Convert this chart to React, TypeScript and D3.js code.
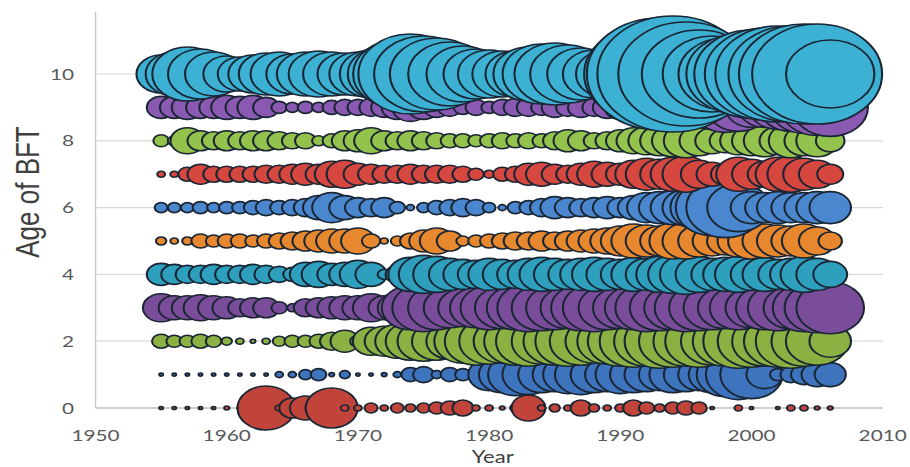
import React, { useEffect, useRef } from 'react';
import * as d3 from 'd3';

// bubble chart: size of each age class of BFT per year
const years = d3.range(1955, 2007);
const ages = [0, 1, 2, 3, 4, 5, 6, 7, 8, 9, 10];

// bubble widths per year (1955..2006), one array per age
const age0 = [1.5, 1.5, 1.5, 1.5, 1.5, 2, 2, 1.5, 22, 3, 10, 12, 10, 20, 3, 3, 5, 3, 5, 4, 5, 6, 7, 8, 3, 3, 2, 4, 13, 3, 4, 3, 8, 4, 3, 4, 8, 6, 4, 6, 7, 6, 1.5, 0, 3, 1.5, 0, 1.5, 3, 3, 2, 2];
const age1 = [1.5, 1.5, 1.5, 1.5, 1.5, 1.5, 1.5, 1.5, 1.5, 3, 3, 5, 6, 2, 4, 1.5, 1.5, 2, 3, 7, 8, 4, 7, 6, 2, 16, 18, 21, 20, 18, 17, 19, 20, 18, 17, 19, 18, 17, 16, 18, 17, 16, 18, 22, 25, 24, 14, 6, 8, 10, 12, 12];
const age2 = [7, 6, 6, 7, 6, 4, 3, 2, 3, 5, 6, 6, 7, 9, 11, 6, 14, 15, 17, 19, 20, 19, 18, 22, 24, 23, 22, 24, 25, 23, 24, 25, 24, 22, 23, 25, 26, 25, 27, 26, 25, 26, 24, 25, 27, 26, 25, 26, 27, 25, 24, 16];
const age3 = [14, 12, 12, 13, 12, 11, 9, 10, 10, 6, 4, 9, 10, 11, 12, 12, 14, 12, 15, 22, 24, 22, 20, 19, 20, 22, 21, 22, 24, 23, 22, 21, 23, 24, 22, 21, 22, 24, 23, 22, 24, 23, 22, 21, 22, 20, 22, 23, 21, 24, 25, 26];
const age4 = [11, 10, 9, 9, 10, 9, 9, 10, 9, 8, 7, 12, 13, 11, 12, 14, 12, 5, 9, 17, 19, 18, 16, 15, 14, 16, 15, 14, 16, 17, 16, 15, 16, 17, 16, 15, 17, 16, 18, 19, 20, 18, 16, 17, 18, 16, 17, 15, 16, 18, 16, 13];
const age5 = [4, 3, 4, 7, 6, 7, 7, 6, 7, 8, 9, 10, 11, 12, 12, 13, 7, 3, 5, 8, 11, 13, 10, 5, 6, 7, 8, 9, 9, 10, 9, 10, 11, 12, 13, 15, 17, 16, 15, 18, 18, 16, 15, 14, 16, 18, 17, 16, 15, 17, 14, 9];
const age6 = [5, 5, 5, 6, 5, 6, 6, 7, 8, 7, 8, 9, 12, 15, 12, 10, 9, 10, 6, 3, 5, 7, 8, 9, 8, 5, 3, 6, 7, 9, 11, 10, 9, 10, 11, 10, 12, 15, 16, 17, 18, 22, 28, 30, 24, 16, 15, 16, 15, 15, 16, 16];
const age7 = [3, 3, 7, 10, 8, 8, 8, 8, 9, 9, 10, 11, 10, 13, 14, 11, 10, 9, 9, 10, 9, 9, 9, 8, 6, 4, 7, 8, 11, 12, 10, 9, 11, 13, 12, 11, 14, 16, 15, 17, 18, 14, 12, 11, 17, 15, 13, 17, 18, 16, 14, 10];
const age8 = [6, 5, 13, 10, 9, 10, 9, 10, 10, 9, 8, 8, 5, 7, 10, 11, 13, 10, 9, 10, 9, 8, 7, 7, 6, 7, 8, 7, 8, 7, 9, 11, 10, 8, 9, 11, 13, 14, 15, 16, 17, 15, 13, 12, 14, 15, 16, 14, 17, 15, 16, 11];
const age9 = [11, 11, 12, 11, 11, 12, 11, 12, 10, 6, 5, 6, 5, 7, 8, 8, 9, 10, 12, 14, 12, 10, 9, 7, 8, 6, 8, 9, 9, 8, 10, 9, 10, 9, 11, 12, 14, 14, 15, 16, 18, 20, 22, 25, 24, 20, 20, 22, 24, 26, 28, 29];
const age10 = [19, 22, 27, 25, 22, 18, 17, 19, 21, 22, 20, 22, 23, 22, 21, 22, 24, 28, 34, 40, 38, 36, 32, 28, 25, 24, 23, 23, 27, 30, 31, 29, 26, 24, 24, 26, 36, 48, 56, 58, 52, 44, 38, 36, 40, 44, 46, 48, 48, 50, 50, 34];

const sizes = [age0, age1, age2, age3, age4, age5, age6, age7, age8, age9, age10];
const ageColors = ['#c0443a', '#3e74bd', '#8bb143', '#7a4d9a', '#2e9fbd', '#e8882e', '#4a87cf', '#d5473f', '#93c24d', '#8a5ab3', '#3db1d3'];

const yTicks = [0, 2, 4, 6, 8, 10];
const xTicks = [1950, 1960, 1970, 1980, 1990, 2000, 2010];

export default function App() {
  const chart = useRef<SVGSVGElement>(null);

  useEffect(() => {
    const svg = d3.select(chart.current);
    svg.html('');

    const x = d3.scaleLinear().domain([1950, 2010]).range([73.5, 679]);
    const y = d3.scaleLinear().domain([0, 10]).range([408, 74]);
    const r = d3.scaleLinear().domain([0, 60]).range([0, 60]);

    // grid + axes
    svg.append('g')
      .selectAll('line')
      .data(yTicks.filter(d => d > 0))
      .enter().append('line')
      .attr('x1', x(1950)).attr('x2', x(2010))
      .attr('y1', d => y(d)).attr('y2', d => y(d))
      .attr('stroke', '#d9d9d9').attr('stroke-width', 1.2);

    svg.append('line')
      .attr('x1', x(1950)).attr('x2', x(2010))
      .attr('y1', y(0)).attr('y2', y(0))
      .attr('stroke', '#bfbfbf').attr('stroke-width', 1.3);
    svg.append('line')
      .attr('x1', x(1950)).attr('x2', x(1950))
      .attr('y1', y(0)).attr('y2', y(11.86))
      .attr('stroke', '#c8c8c8').attr('stroke-width', 1.1);

    const font = 'Lato, "Open Sans", sans-serif';

    svg.append('g')
      .selectAll('text')
      .data(yTicks)
      .enter().append('text')
      .attr('x', 57).attr('y', d => y(d))
      .attr('dy', '0.35em')
      .attr('text-anchor', 'end')
      .attr('font-family', font).attr('font-size', 16)
      .attr('fill', '#595959')
      .text(d => d);

    svg.append('g')
      .selectAll('text')
      .data(xTicks)
      .enter().append('text')
      .attr('x', d => x(d)).attr('y', 441)
      .attr('text-anchor', 'middle')
      .attr('font-family', font).attr('font-size', 16)
      .attr('fill', '#595959')
      .text(d => d);

    svg.append('text')
      .attr('x', 379).attr('y', 463)
      .attr('text-anchor', 'middle')
      .attr('font-family', font).attr('font-size', 17)
      .attr('fill', '#404040')
      .text('Year');

    svg.append('text')
      .attr('transform', 'translate(30,192) rotate(-90)')
      .attr('text-anchor', 'middle')
      .attr('font-family', '"Liberation Sans", Arial, sans-serif').attr('font-size', 26)
      .attr('fill', '#404040')
      .text('Age of BFT');

    // bubbles, one group per age
    const groups = svg.append('g')
      .selectAll('g')
      .data(ages)
      .enter().append('g')
      .attr('fill', d => ageColors[d]);

    groups.selectAll('circle')
      .data(a => years.map((yr, i) => ({ year: yr, age: a, size: sizes[a][i] })).filter(d => d.size > 0))
      .enter().append('circle')
      .attr('cx', d => x(d.year))
      .attr('cy', d => y(d.age))
      .attr('r', d => r(d.size))
      .attr('stroke', '#1a2634')
      .attr('stroke-width', 1.6);
  }, []);

  return (
    <div style={{ position: 'absolute', left: 0, top: 0 }}>
      <svg ref={chart} width={910} height={467} viewBox="0 0 700 467"
        preserveAspectRatio="none" style={{ display: 'block', background: '#fff' }}></svg>
    </div>
  );
}
